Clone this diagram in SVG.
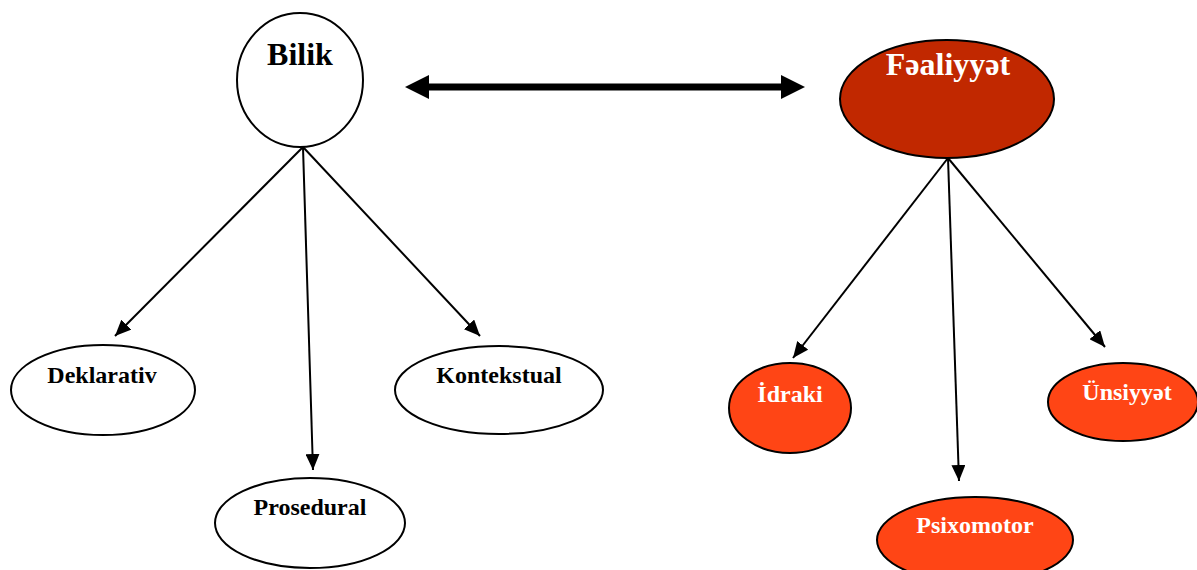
<svg xmlns="http://www.w3.org/2000/svg" width="1197" height="570" viewBox="0 0 1197 570">
<style>
.w{fill:#ffffff;stroke:#000;stroke-width:2}
.d{fill:#C12800;stroke:#000;stroke-width:2}
.o{fill:#FF4515;stroke:#000;stroke-width:2}
text{font-family:"Liberation Serif","Times New Roman",serif;font-weight:bold;text-anchor:middle}
.big{font-size:32px}
.sm{font-size:24px}
.bk{fill:#000}
.wt{fill:#fff}
.c{stroke:#000;stroke-width:2;fill:none;marker-end:url(#ah)}
</style>
<defs>
<marker id="ah" markerUnits="userSpaceOnUse" markerWidth="16" markerHeight="14" refX="16" refY="7" orient="auto" viewBox="0 0 16 14">
<path d="M0,0 L16,7 L0,14 z" fill="#000"/>
</marker>
<marker id="big" markerUnits="userSpaceOnUse" markerWidth="24" markerHeight="24" refX="4" refY="12" orient="auto-start-reverse" viewBox="0 0 24 24">
<path d="M0,0 L24,12 L0,24 z" fill="#000"/>
</marker>
</defs>
<g id="connectors">
<line x1="425" y1="87" x2="785" y2="87" stroke="#000" stroke-width="7" marker-start="url(#big)" marker-end="url(#big)"/>
<line class="c" x1="303" y1="147" x2="115" y2="336"/>
<line class="c" x1="303" y1="147" x2="313" y2="470"/>
<line class="c" x1="303" y1="147" x2="480" y2="336"/>
<line class="c" x1="948" y1="158" x2="793" y2="358"/>
<line class="c" x1="948" y1="158" x2="959" y2="481"/>
<line class="c" x1="948" y1="158" x2="1105" y2="347"/>
</g>
<g id="bilik">
<ellipse class="w" cx="300" cy="80" rx="63" ry="67"/>
<text class="big bk" x="300" y="65">Bilik</text>
</g>
<g id="fealiyyet">
<ellipse class="d" cx="947" cy="99" rx="107" ry="59"/>
<text class="big wt" x="948" y="75">Fəaliyyət</text>
</g>
<g id="deklarativ">
<ellipse class="w" cx="103" cy="390" rx="92" ry="45"/>
<text class="sm bk" x="102" y="383">Deklarativ</text>
</g>
<g id="kontekstual">
<ellipse class="w" cx="499" cy="390" rx="104" ry="44"/>
<text class="sm bk" x="499" y="383">Kontekstual</text>
</g>
<g id="prosedural">
<ellipse class="w" cx="310" cy="523" rx="95" ry="45"/>
<text class="sm bk" x="310" y="515">Prosedural</text>
</g>
<g id="idraki">
<ellipse class="o" cx="790" cy="408" rx="61" ry="45"/>
<text class="sm wt" x="790" y="402">İdraki</text>
</g>
<g id="unsiyyet">
<ellipse class="o" cx="1123" cy="402" rx="75" ry="39"/>
<text class="sm wt" x="1127" y="400">Ünsiyyət</text>
</g>
<g id="psixomotor">
<ellipse class="o" cx="975" cy="540" rx="98" ry="43"/>
<text class="sm wt" x="975" y="533">Psixomotor</text>
</g>
</svg>
